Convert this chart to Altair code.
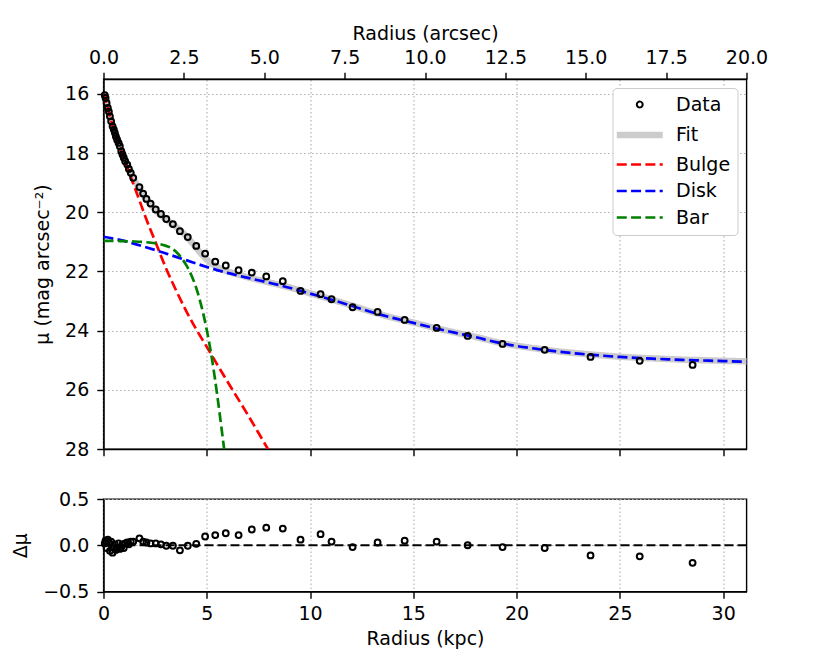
import altair as alt
import pandas as pd

# ---------------- data ----------------
data_r = [0.06, 0.10, 0.15, 0.21, 0.26, 0.31, 0.37, 0.44, 0.50, 0.55,
          0.60, 0.66, 0.73, 0.79, 0.86, 0.92, 0.98, 1.05, 1.15, 1.23,
          1.32, 1.44, 1.74, 1.92, 2.08, 2.28, 2.53, 2.78, 3.04, 3.36,
          3.70, 4.08, 4.49, 4.92, 5.41, 5.92, 6.54, 7.18, 7.88, 8.68,
          9.54, 10.51, 11.04, 12.06, 13.27, 14.58, 16.13, 17.63, 19.32, 21.36,
          23.58, 25.96, 28.52]
data_mu = [16.05, 16.14, 16.31, 16.48, 16.60, 16.76, 16.93, 17.10, 17.21, 17.32,
           17.44, 17.55, 17.66, 17.77, 17.94, 18.05, 18.16, 18.28, 18.39, 18.54,
           18.67, 18.84, 19.15, 19.37, 19.55, 19.71, 19.91, 20.06, 20.23, 20.40,
           20.64, 20.84, 21.14, 21.40, 21.67, 21.80, 21.96, 22.04, 22.17, 22.33,
           22.66, 22.77, 22.94, 23.21, 23.37, 23.64, 23.91, 24.18, 24.45, 24.65,
           24.89, 25.02, 25.16]
data_dmu = [0.02, 0.05, -0.03, 0.06, 0.03, -0.06, 0.04, -0.08, -0.02, 0.01,
            -0.05, -0.03, 0.02, -0.04, -0.02, 0.01, -0.03, 0.02, 0.03, 0.01,
            0.04, 0.04, 0.075, 0.04, 0.03, 0.02, 0.02, 0.01, -0.005, -0.005,
            -0.055, -0.005, 0.015, 0.095, 0.11, 0.13, 0.11, 0.17, 0.19, 0.18,
            0.06, 0.12, 0.04, -0.02, 0.03, 0.05, 0.04, 0.0, -0.02, -0.03,
            -0.11, -0.12, -0.19]

fit_r = [0, 0.25, 0.5, 0.75, 1.0, 1.25, 1.5, 1.75, 2.0, 2.25,
         2.5, 2.75, 3.0, 3.25, 3.5, 3.75, 4.0, 4.25, 4.5, 4.75,
         5.0, 5.5, 6.0, 6.5, 7.0, 8.0, 9.0, 10, 11, 12,
         13, 14, 15, 16, 17, 18, 19, 20, 21, 22,
         23, 24, 25, 26, 27, 28, 29, 30, 31.2]
fit_mu = [15.95, 16.58, 17.2, 17.68, 18.14, 18.56, 18.93, 19.23, 19.5, 19.72,
          19.92, 20.08, 20.22, 20.36, 20.49, 20.64, 20.8, 21.0, 21.21, 21.42,
          21.6, 21.85, 22.0, 22.1, 22.2, 22.37, 22.54, 22.74, 22.94, 23.15,
          23.37, 23.56, 23.73, 23.9, 24.06, 24.21, 24.38, 24.51, 24.61, 24.7,
          24.77, 24.83, 24.88, 24.92, 24.95, 24.98, 25.0, 25.02, 25.04]

bulge_r = [0, 0.25, 0.5, 0.75, 1.0, 1.25, 1.5, 1.75, 2.0, 2.25,
           2.5, 2.75, 3.0, 3.5, 4.0, 4.5, 5.0, 5.5, 6.0, 6.5,
           7.0, 7.5, 8.0, 8.3]
bulge_mu = [15.98, 16.6, 17.22, 17.72, 18.2, 18.68, 19.15, 19.62, 20.1, 20.55,
            20.98, 21.42, 21.85, 22.62, 23.33, 23.97, 24.55, 25.14, 25.72, 26.29,
            26.86, 27.45, 28.05, 28.4]

disk_r = [0, 1, 2, 3, 4, 5, 6, 7, 8, 9,
          10, 11, 12, 13, 14, 15, 16, 17, 18, 19,
          20, 21, 22, 23, 24, 25, 26, 27, 28, 29,
          30, 31.2]
disk_mu = [20.83, 20.97, 21.17, 21.39, 21.62, 21.85, 22.05, 22.22, 22.38, 22.55,
           22.75, 22.95, 23.16, 23.38, 23.57, 23.74, 23.91, 24.07, 24.22, 24.39,
           24.52, 24.62, 24.71, 24.78, 24.84, 24.89, 24.93, 24.96, 24.99, 25.01,
           25.03, 25.05]

bar_r = [0, 0.5, 1.0, 1.5, 2.0, 2.5, 3.0, 3.25, 3.5, 3.75,
         4.0, 4.25, 4.5, 4.75, 5.0, 5.25, 5.5, 5.75, 5.95]
bar_mu = [20.97, 20.97, 20.98, 20.99, 21.01, 21.05, 21.13, 21.2, 21.33, 21.52,
          21.78, 22.12, 22.58, 23.2, 23.98, 24.95, 26.15, 27.5, 28.6]

series_names = ["Data", "Fit", "Bulge", "Disk", "Bar"]
series_colors = ["#000000", "#cccccc", "#ff0000", "#0000ff", "#008000"]

kpc_ticks = [0, 5, 10, 15, 20, 25, 30]
arcsec_ticks = [0, 2.5, 5, 7.5, 10, 12.5, 15, 17.5, 20]
mu_ticks = [16, 18, 20, 22, 24, 26, 28]
dmu_ticks = [-0.5, 0.0, 0.5]
kpc_max = 31.13
arcsec_max = 20.0

# ---------------- tables ----------------
pts = pd.DataFrame({"r": data_r, "mu": data_mu, "series": "Data"})
res = pd.DataFrame({"r": data_r, "dmu": data_dmu})
fit_df = pd.DataFrame({"r": fit_r, "mu": fit_mu, "series": "Fit"})
comp_df = pd.concat([
    pd.DataFrame({"r": bulge_r, "mu": bulge_mu, "series": "Bulge"}),
    pd.DataFrame({"r": disk_r, "mu": disk_mu, "series": "Disk"}),
    pd.DataFrame({"r": bar_r, "mu": bar_mu, "series": "Bar"}),
], ignore_index=True)
arc_df = pd.DataFrame({"a": [0.0, arcsec_max]})
zero_df = pd.DataFrame({"dmu": [0.0]})

FONT = "DejaVu Sans"
FS = 19
W = 643
H_TOP = 370
H_BOT = 92.5
PT_SIZE = 34
PT_STROKE = 2.0

# style scales shared by plot and legend (merged into one legend)
LINE_SYM = "M-3.833,0H3.833"
legend = alt.Legend(
    title=None, orient="top-right", offset=9,
    fillColor="white", strokeColor="#cccccc", cornerRadius=4, padding=7,
    labelFont=FONT, labelFontSize=FS, labelColor="black",
    rowPadding=6.5, symbolOffset=10.75, labelOffset=26.75,
)
color = alt.Color("series:N", scale=alt.Scale(domain=series_names, range=series_colors),
                  legend=legend)
dash = alt.StrokeDash("series:N", scale=alt.Scale(
    type="ordinal", domain=series_names,
    range=[[1, 0], [1, 0], [10, 4.3], [10, 4.3], [10, 4.3]]), legend=legend)
swidth = alt.StrokeWidth("series:N", scale=alt.Scale(
    type="ordinal", domain=series_names, range=[PT_STROKE, 6.5, 2.7, 2.7, 2.7]), legend=legend)
shape = alt.Shape("series:N", scale=alt.Scale(
    domain=series_names, range=["circle", LINE_SYM, LINE_SYM, LINE_SYM, LINE_SYM]), legend=legend)
size = alt.Size("series:N", scale=alt.Scale(
    type="ordinal", domain=series_names, range=[PT_SIZE, 144, 144, 144, 144]), legend=legend)

x_top = alt.X("r:Q", scale=alt.Scale(domain=[0, kpc_max], nice=False, zero=False),
              axis=alt.Axis(values=kpc_ticks, labels=False, title=None, grid=True))
y_top = alt.Y("mu:Q", scale=alt.Scale(domain=[15.5, 28], reverse=True, nice=False, zero=False),
              axis=alt.Axis(values=mu_ticks, title="μ (mag arcsec⁻²)", grid=True,
                            labelPadding=8, titlePadding=12))

fit_line = alt.Chart(fit_df).mark_line(clip=True, interpolate="monotone").encode(
    x=x_top, y=y_top, color=color, strokeDash=dash, strokeWidth=swidth)
comp_lines = alt.Chart(comp_df).mark_line(clip=True, interpolate="monotone").encode(
    x=x_top, y=y_top, color=color, strokeDash=dash, strokeWidth=swidth)
data_pts = alt.Chart(pts).mark_point(filled=False, opacity=1).encode(
    x=x_top, y=y_top, color=color, shape=shape, size=size, strokeWidth=swidth)

arc_layer = alt.Chart(arc_df).mark_point(opacity=0).encode(
    x=alt.X("a:Q", scale=alt.Scale(domain=[0, arcsec_max], nice=False, zero=False),
            axis=alt.Axis(orient="top", values=arcsec_ticks, format=".1f",
                          title="Radius (arcsec)", grid=False,
                          labelPadding=5, titlePadding=5)))

top = alt.layer(alt.layer(fit_line, comp_lines, data_pts), arc_layer).resolve_scale(
    x="independent").properties(width=W, height=H_TOP)

x_bot = alt.X("r:Q", scale=alt.Scale(domain=[0, kpc_max], nice=False, zero=False),
              axis=alt.Axis(values=kpc_ticks, title="Radius (kpc)", grid=True,
                            labelPadding=6, titlePadding=6))
y_bot = alt.Y("dmu:Q", scale=alt.Scale(domain=[-0.5, 0.5], nice=False, zero=False),
              axis=alt.Axis(values=dmu_ticks, format=".1f", title="Δμ", grid=True,
                            labelPadding=8, titlePadding=12))

zero_line = alt.Chart(zero_df).mark_rule(color="black", strokeWidth=2.2, strokeDash=[9, 4]).encode(
    y=y_bot)
res_pts = alt.Chart(res).mark_point(shape="circle", filled=False, size=PT_SIZE,
                                    strokeWidth=PT_STROKE, color="black", opacity=1).encode(
    x=x_bot, y=y_bot)

bottom = alt.layer(zero_line, res_pts).properties(width=W, height=H_BOT)

chart = alt.vconcat(top, bottom, spacing=29).properties(
    padding={"left": 2.5, "top": 15, "right": 5, "bottom": 5}
).configure_view(
    stroke="black", strokeWidth=1.4
).configure_axis(
    labelFont=FONT, labelFontSize=FS, labelColor="black", labelFlush=False,
    titleFont=FONT, titleFontSize=FS, titleFontWeight="normal", titleColor="black",
    domainColor="black", domainWidth=1.4, tickColor="black", tickWidth=1.4, tickSize=6.7,
    gridColor="#b0b0b0", gridDash=[1.5, 2.5], gridWidth=1.1,
)

chart.save("out.html", embed_options={"renderer": "svg", "actions": False})
